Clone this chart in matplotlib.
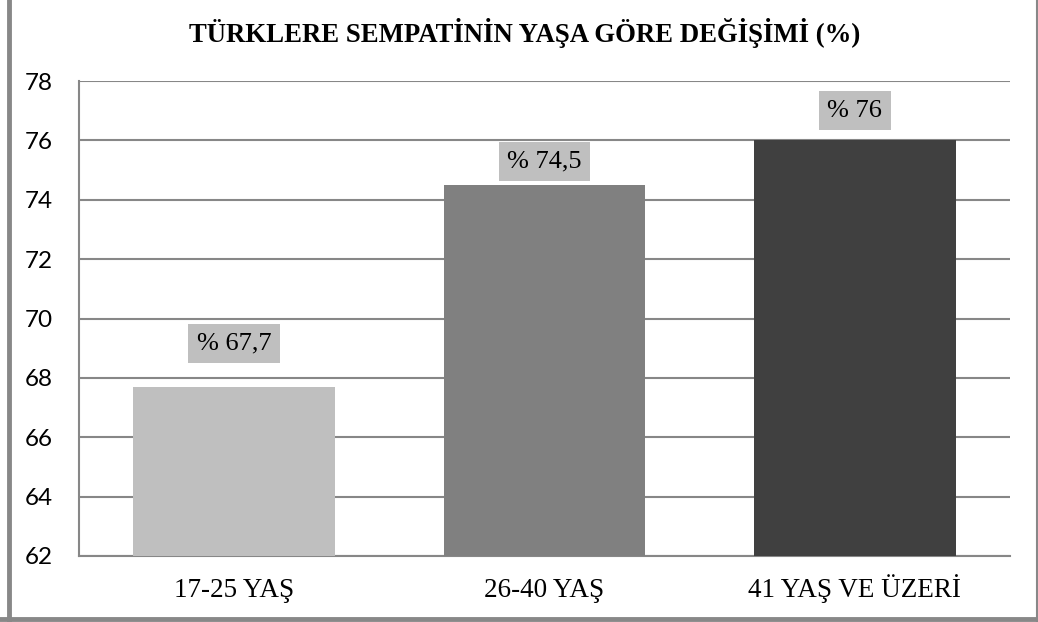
import matplotlib
matplotlib.use("Agg")
import matplotlib.pyplot as plt
from matplotlib.lines import Line2D

categories = ["17-25 YAŞ", "26-40 YAŞ", "41 YAŞ VE ÜZERİ"]
values = [67.7, 74.5, 76]
value_labels = ["% 67,7", "% 74,5", "% 76"]
colors = ["#BFBFBF", "#808080", "#404040"]
yticks = [62, 64, 66, 68, 70, 72, 74, 76, 78]
title = "TÜRKLERE SEMPATİNİN YAŞA GÖRE DEĞİŞİMİ (%)"

# label offsets above bar tops (points) - layout only
label_offsets = [31, 17, 21.5]

W, H = 1038, 622
fig = plt.figure(figsize=(W / 100, H / 100), dpi=100)
fig.patch.set_facecolor("white")

ax = fig.add_axes([79 / W, 66 / H, (1010 - 79) / W, (556 - 81) / H])
x = list(range(len(categories)))
ax.bar(x, [v - 62 for v in values], bottom=62, width=0.65, color=colors, zorder=3)
ax.set_xlim(-0.5, 2.5)
ax.set_ylim(62, 78)
ax.set_yticks(yticks)
ax.set_yticklabels([str(t) for t in yticks], fontfamily="Lato", fontsize=17.5)
ax.set_xticks(x)
ax.set_xticklabels(categories, fontfamily="Liberation Serif", fontsize=19.5, va="baseline")
ax.tick_params(axis="both", length=0)
ax.tick_params(axis="y", pad=19)
ax.tick_params(axis="x", pad=29.5)
ax.grid(axis="y", color="#878787", linewidth=1.5, zorder=0)
for s in ["top", "right"]:
    ax.spines[s].set_visible(False)
for s in ["left", "bottom"]:
    ax.spines[s].set_color("#878787")
    ax.spines[s].set_linewidth(1.5)

for xi, v, lab, off in zip(x, values, value_labels, label_offsets):
    ax.annotate(lab, xy=(xi, v), xytext=(0, off), textcoords="offset points",
                ha="center", va="center", fontfamily="Liberation Serif", fontsize=19,
                bbox=dict(boxstyle="square,pad=0.33", fc="#BFBFBF", ec="none"), zorder=5)

fig.text(524.5 / W, 1 - 33 / H, title, ha="center", va="center",
         fontfamily="Liberation Serif", fontweight="bold", fontsize=19.3)

# outer frame (left, bottom, right)
fig.add_artist(Line2D([9 / W, 9 / W], [0, 1], color="#888888", linewidth=3.5, transform=fig.transFigure))
fig.add_artist(Line2D([0, 1], [1 - 619 / H, 1 - 619 / H], color="#888888", linewidth=3.5, transform=fig.transFigure))
fig.add_artist(Line2D([1036.5 / W, 1036.5 / W], [0, 1], color="#888888", linewidth=1.5, transform=fig.transFigure))

fig.savefig("out.png", dpi=100, facecolor="white")
